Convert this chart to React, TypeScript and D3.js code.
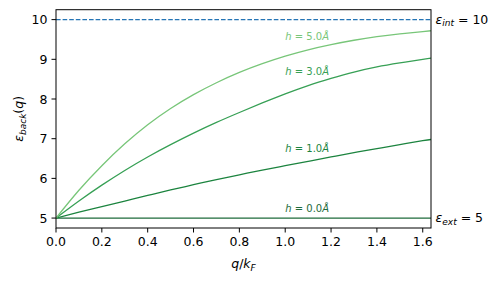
import * as d3 from "d3";

// q / k_F sample positions
const qValues = [0, 0.1, 0.2, 0.3, 0.4, 0.5, 0.6, 0.7, 0.8, 0.9, 1.0, 1.1, 1.2, 1.3, 1.4, 1.5, 1.6, 1.636];

// eps_back(q) for each slab thickness h
const epsH0 = [5, 5, 5, 5, 5, 5, 5, 5, 5, 5, 5, 5, 5, 5, 5, 5, 5, 5];
const epsH1 = [5, 5.15, 5.29, 5.43, 5.57, 5.71, 5.84, 5.97, 6.09, 6.21, 6.32, 6.43, 6.54, 6.65, 6.75, 6.85, 6.95, 6.98];
const epsH3 = [5, 5.43, 5.83, 6.2, 6.54, 6.85, 7.14, 7.41, 7.66, 7.9, 8.13, 8.34, 8.52, 8.68, 8.81, 8.91, 9.0, 9.03];
const epsH5 = [5, 5.7, 6.32, 6.87, 7.35, 7.76, 8.11, 8.41, 8.67, 8.89, 9.08, 9.24, 9.37, 9.48, 9.57, 9.64, 9.7, 9.72];

const hLabels = ["0.0", "1.0", "3.0", "5.0"];
const labelQ = [1.0, 1.0, 1.0, 1.0];
const labelEps = [5.23, 6.76, 8.7, 9.58];
const seriesColors = ["#1e6b3b", "#1c843f", "#37a055", "#78c679"];

const epsInt = 10;
const epsExt = 5;

const xTicks = [0, 0.2, 0.4, 0.6, 0.8, 1.0, 1.2, 1.4, 1.6];
const yTicks = [5, 6, 7, 8, 9, 10];

const W = 499;
const H = 281;
const margin = { top: 9.7, right: 68, bottom: 53, left: 56 };
const FONT = "'DejaVu Sans', sans-serif";

export default function App() {
  const x = d3
    .scaleLinear()
    .domain([0, 1.636])
    .range([margin.left, W - margin.right]);
  const y = d3
    .scaleLinear()
    .domain([4.75, 10.25])
    .range([H - margin.bottom, margin.top]);

  const line = d3
    .line<number>()
    .x((_, i) => x(qValues[i]))
    .y((d) => y(d))
    .curve(d3.curveNatural);

  const series = [epsH0, epsH1, epsH3, epsH5];
  const [x0, x1] = x.range();
  const [yb, yt] = y.range();

  return (
    <svg
      width={W}
      height={H}
      style={{ position: "absolute", left: 0, top: 0, background: "#fff" }}
      fontFamily={FONT}
    >
      <defs>
        <clipPath id="plot">
          <rect x={x0} y={yt} width={x1 - x0} height={yb - yt} />
        </clipPath>
      </defs>

      <g clipPath="url(#plot)">
        <line
          x1={x0}
          x2={x1}
          y1={y(epsInt)}
          y2={y(epsInt)}
          stroke="#2474b5"
          strokeWidth={1.2}
          strokeDasharray="4.6,2"
        />
        {series.map((s, i) => (
          <path
            key={i}
            d={line(s) || ""}
            fill="none"
            stroke={seriesColors[i]}
            strokeWidth={1.3}
          />
        ))}
      </g>

      {hLabels.map((h, i) => (
        <text
          key={h}
          x={x(labelQ[i])}
          y={y(labelEps[i])}
          dy="0.35em"
          fontSize={10}
          fill={seriesColors[i]}
        >
          <tspan fontStyle="italic">h</tspan>
          {" = " + h}
          <tspan fontStyle="italic">Å</tspan>
        </text>
      ))}

      {/* frame */}
      <rect
        x={x0}
        y={yt}
        width={x1 - x0}
        height={yb - yt}
        fill="none"
        stroke="#000"
        strokeWidth={1}
      />

      {/* x axis */}
      {xTicks.map((t) => (
        <g key={t} transform={`translate(${x(t)},${yb})`}>
          <line y2={4.5} stroke="#000" strokeWidth={1} />
          <text y={17.5} textAnchor="middle" fontSize={12.5} fill="#000">
            {t.toFixed(1)}
          </text>
        </g>
      ))}

      {/* y axis */}
      {yTicks.map((t) => (
        <g key={t} transform={`translate(${x0},${y(t)})`}>
          <line x2={-4.5} stroke="#000" strokeWidth={1} />
          <text x={-8.5} dy="0.36em" textAnchor="end" fontSize={12.5} fill="#000">
            {t}
          </text>
        </g>
      ))}

      {/* axis titles */}
      <text x={(x0 + x1) / 2} y={268} textAnchor="middle" fontSize={12.5} fill="#000">
        <tspan fontStyle="italic">q</tspan>/<tspan fontStyle="italic">k</tspan>
        <tspan fontStyle="italic" fontSize={9} dy={2.5}>F</tspan>
      </text>
      <text
        transform={`translate(23,${(yt + yb) / 2}) rotate(-90)`}
        textAnchor="middle"
        fontSize={12.5}
        fill="#000"
      >
        <tspan fontStyle="italic">ε</tspan>
        <tspan fontStyle="italic" fontSize={9} dy={2.5}>back</tspan>
        <tspan dy={-2.5}>(</tspan>
        <tspan fontStyle="italic">q</tspan>)
      </text>

      {/* right-side annotations */}
      <text x={x1 + 4.5} y={y(epsInt)} dy="0.35em" fontSize={12.5} fill="#000">
        <tspan fontStyle="italic">ε</tspan>
        <tspan fontStyle="italic" fontSize={9} dy={2.5}>int</tspan>
        <tspan dy={-2.5}>{" = " + epsInt}</tspan>
      </text>
      <text x={x1 + 4.5} y={y(epsExt)} dy="0.35em" fontSize={12.5} fill="#000">
        <tspan fontStyle="italic">ε</tspan>
        <tspan fontStyle="italic" fontSize={9} dy={2.5}>ext</tspan>
        <tspan dy={-2.5}>{" = " + epsExt}</tspan>
      </text>
    </svg>
  );
}
